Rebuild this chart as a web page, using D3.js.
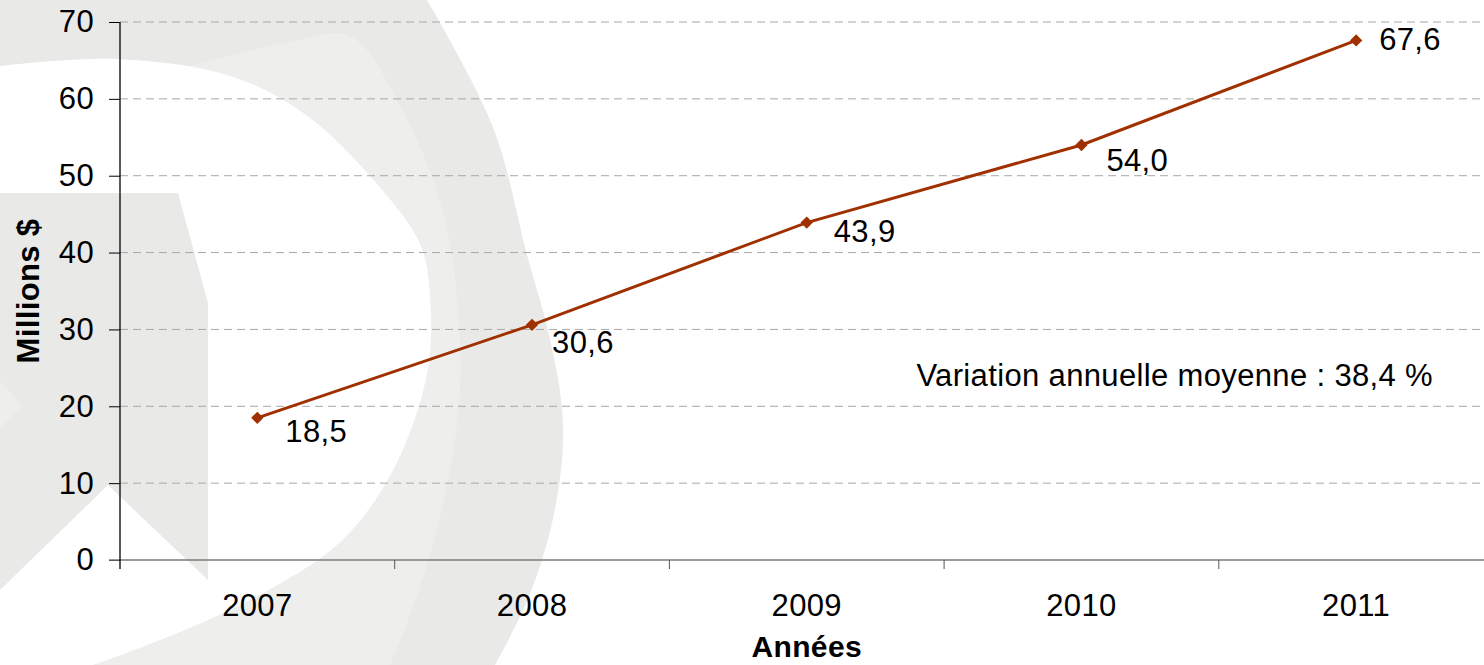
<!DOCTYPE html>
<html>
<head>
<meta charset="utf-8">
<script src="https://cdn.jsdelivr.net/npm/d3@7"></script>
<style>
  body { margin: 0; background: #ffffff; }
  svg { display: block; }
  text { font-family: "Liberation Sans", Arial, Helvetica, sans-serif; fill: #000; letter-spacing: 0.35px; }
</style>
</head>
<body>
<svg id="chart" width="1484" height="665"></svg>
<script>
// ---- data ----
const years = ["2007", "2008", "2009", "2010", "2011"];
const revenue = [18.5, 30.6, 43.9, 54.0, 67.6];          // millions $
const valueLabels = ["18,5", "30,6", "43,9", "54,0", "67,6"];
const yTicks = [0, 10, 20, 30, 40, 50, 60, 70];
const yTitle = "Millions $";
const xTitle = "Années";
const note = "Variation annuelle moyenne : 38,4 %";

// ---- layout ----
const W = 1484, H = 665;
const plot = { left: 120, right: 1493.5, top: 22, bottom: 560 };
const lineColor = "#a03000";
const fontSize = 31;

const svg = d3.select("#chart");

const x = d3.scaleBand().domain(years).range([plot.left, plot.right]);
const y = d3.scaleLinear().domain([0, 70]).range([plot.bottom, plot.top]);
const cx = d => x(d) + x.bandwidth() / 2;

// ---- faint logo watermark in the background ----
const wm = svg.append("g").attr("class", "watermark");
const curve = d3.line().curve(d3.curveCatmullRom.alpha(0.5));
const gray = "#e9e9e8", grayLight = "#eeeeed";

// outer disc-like band
wm.append("path")
  .attr("fill", gray)
  .attr("d", curve([[427, 0], [493, 127], [527, 255], [550, 339], [563, 424],
                    [555, 509], [530, 594], [495, 665]]) + "L0,665L0,0Z");
// lighter inner ring
wm.append("path")
  .attr("fill", grayLight)
  .attr("d", curve([[190, 66], [290, 42], [350, 36], [400, 106], [443, 212], [460, 339],
                    [457, 424], [437, 530], [410, 615], [390, 665]]) + "L0,665L0,66Z");
// white counter of the letter
wm.append("path")
  .attr("fill", "#ffffff")
  .attr("d", curve([[0, 66], [115, 59], [230, 76], [306, 115], [383, 191], [421, 246],
                    [430, 297], [429, 361], [413, 424], [383, 488], [337, 545],
                    [250, 600], [160, 640], [93, 665]]) + "L0,665Z");
// stem block with chevron cut-out
wm.append("path")
  .attr("fill", gray)
  .attr("d", "M0,193L178,193L208,303L208,580L108,485L0,590Z");
wm.append("path")
  .attr("fill", grayLight)
  .attr("d", "M0,381L22,405L0,429Z");

// ---- gridlines ----
svg.append("g")
  .selectAll("line")
  .data(yTicks.filter(t => t > 0))
  .join("line")
  .attr("x1", plot.left).attr("x2", W)
  .attr("y1", d => y(d)).attr("y2", d => y(d))
  .attr("stroke", "#a8a8a8")
  .attr("stroke-width", 1)
  .attr("stroke-dasharray", "8,5");

// ---- y axis ----
const yAxis = svg.append("g")
  .attr("transform", `translate(${plot.left},0)`)
  .call(d3.axisLeft(y).tickValues(yTicks).tickSize(11).tickPadding(15).tickFormat(d3.format("d")));
yAxis.select(".domain").remove();
yAxis.selectAll(".tick line").attr("stroke", "#000");
yAxis.selectAll(".tick text")
  .attr("font-size", fontSize)
  .attr("font-family", "Liberation Sans, Arial, sans-serif")
  .attr("fill", "#000");

// x axis baseline and category separators
svg.append("line")
  .attr("x1", plot.left - 11).attr("x2", W)
  .attr("y1", plot.bottom).attr("y2", plot.bottom)
  .attr("stroke", "#7a7a7a").attr("stroke-width", 1.3);
svg.append("line")
  .attr("x1", plot.left).attr("x2", plot.left)
  .attr("y1", plot.top).attr("y2", plot.bottom + 9)
  .attr("stroke", "#000").attr("stroke-width", 1.3);
svg.append("g")
  .selectAll("line")
  .data(years.slice(1))
  .join("line")
  .attr("x1", d => x(d)).attr("x2", d => x(d))
  .attr("y1", plot.bottom).attr("y2", plot.bottom + 9)
  .attr("stroke", "#555").attr("stroke-width", 1);

// category labels
svg.append("g")
  .selectAll("text")
  .data(years)
  .join("text")
  .attr("x", d => cx(d))
  .attr("y", 616)
  .attr("text-anchor", "middle")
  .attr("font-size", fontSize)
  .text(d => d);

// axis titles
svg.append("text")
  .attr("x", (plot.left + plot.right) / 2)
  .attr("y", 657)
  .attr("text-anchor", "middle")
  .attr("font-size", 30)
  .attr("font-weight", "bold")
  .text(xTitle);

svg.append("text")
  .attr("transform", "translate(39,291) rotate(-90)")
  .attr("text-anchor", "middle")
  .attr("font-size", fontSize)
  .attr("font-weight", "bold")
  .text(yTitle);

// ---- series line ----
const pts = years.map((yr, i) => [cx(yr), y(revenue[i])]);
svg.append("path")
  .attr("fill", "none")
  .attr("stroke", lineColor)
  .attr("stroke-width", 3)
  .attr("d", d3.line()(pts));

svg.append("g")
  .selectAll("path")
  .data(pts)
  .join("path")
  .attr("transform", d => `translate(${d[0]},${d[1]}) rotate(45)`)
  .attr("d", d3.symbol(d3.symbolSquare, 76)())
  .attr("fill", lineColor);

// value labels, nudged off their markers
const labelNudge = [[28, 24], [20, 28], [27, 19], [25, 26], [23, 10]];
svg.append("g")
  .selectAll("text")
  .data(pts)
  .join("text")
  .attr("x", (d, i) => d[0] + labelNudge[i][0])
  .attr("y", (d, i) => d[1] + labelNudge[i][1])
  .attr("font-size", fontSize)
  .text((d, i) => valueLabels[i]);

// annotation
svg.append("text")
  .attr("x", 1433)
  .attr("y", 386)
  .attr("text-anchor", "end")
  .attr("font-size", fontSize)
  .text(note);
</script>
</body>
</html>
